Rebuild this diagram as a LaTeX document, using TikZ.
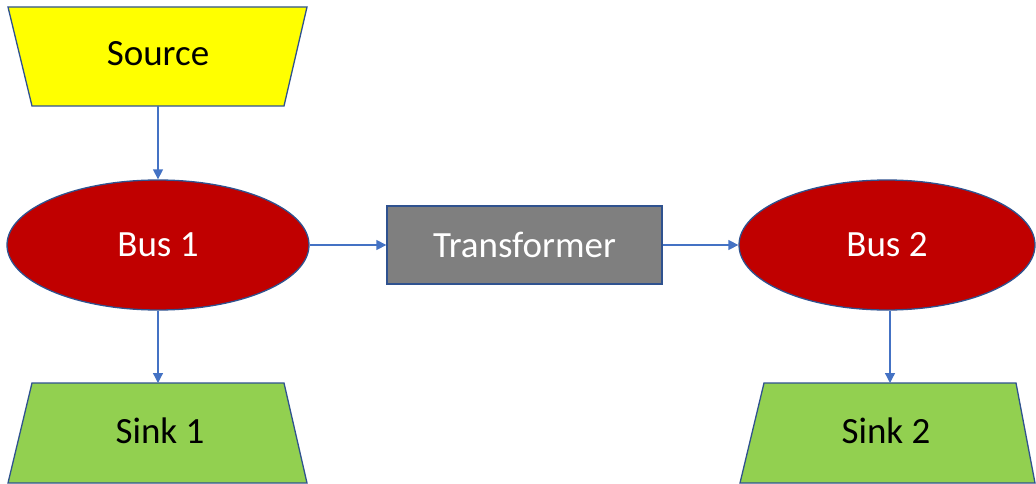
\documentclass[tikz,border=0pt]{standalone}
\usepackage{fontspec}
\setmainfont{Carlito}
\usetikzlibrary{shapes.geometric,arrows.meta}
\definecolor{outline}{HTML}{2F528F}
\definecolor{link}{HTML}{4472C4}
\definecolor{srcfill}{HTML}{FFFF00}
\definecolor{busfill}{HTML}{C00000}
\definecolor{trfill}{HTML}{7F7F7F}
\definecolor{sinkfill}{HTML}{92D050}
\begin{document}
\begin{tikzpicture}[x=1pt,y=-1pt,
  lbl/.style={font=\fontsize{37}{44}\selectfont},
  shapeline/.style={draw=outline,line width=1.3pt,line join=miter},
  anchorbox/.style={inner sep=0pt,outer sep=0pt},
  bus/.style={ellipse,shapeline,fill=busfill,text=white,lbl,inner sep=0pt,
    minimum width=302pt,minimum height=130pt},
  link/.style={draw=link,line width=1.3pt,-{Triangle[length=10pt,width=10pt]}}]
\useasboundingbox (0,0) rectangle (1036,484);
% source: trapezoid, wide side up
\draw[shapeline,fill=srcfill] (8,7) -- (307,7) -- (284,106) -- (32,106) -- cycle;
\node[anchorbox,minimum width=252pt,minimum height=99pt] (src) at (158,56.5) {};
\node[lbl] at (158,54) {Source};
% sinks: trapezoids, wide side down
\draw[shapeline,fill=sinkfill] (32,383) -- (284,383) -- (307,483) -- (8,483) -- cycle;
\node[anchorbox,minimum width=252pt,minimum height=100pt] (sink1) at (158,433) {};
\node[lbl] at (160,431) {Sink 1};
\draw[shapeline,fill=sinkfill] (764,383) -- (1016,383) -- (1035,483) -- (740,483) -- cycle;
\node[anchorbox,minimum width=252pt,minimum height=100pt] (sink2) at (890,433) {};
\node[lbl] at (886,431) {Sink 2};
% buses
\node[bus] (bus1) at (158,245) {Bus 1};
\node[bus,minimum width=296pt] (bus2) at (887,245) {Bus 2};
% transformer
\node[shapeline,fill=trfill,text=white,lbl,minimum width=275pt,minimum height=78pt,inner sep=0pt] (tr) at (524.5,245) {Transformer};
% connectors
\draw[link] (src.south) -- (bus1.south |- bus1.north);
\draw[link] (bus1.south) -- (sink1.north);
\draw[link] (bus1.east) -- (tr.west);
\draw[link] (tr.east) -- (bus2.west);
\draw[link] (bus2.south -| sink2.north) -- (sink2.north);
\end{tikzpicture}
\end{document}
